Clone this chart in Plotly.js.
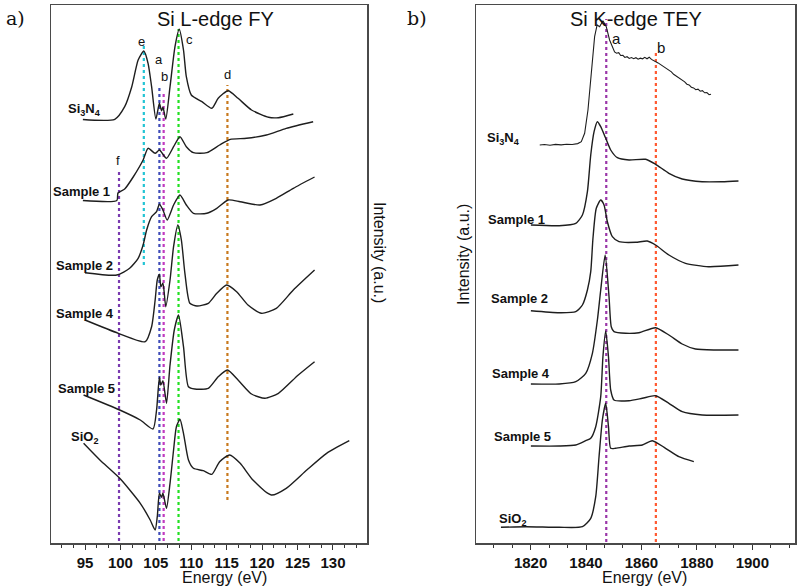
<!DOCTYPE html>
<html>
<head>
<meta charset="utf-8">
<script src="https://cdn.plot.ly/plotly-3.0.1.min.js"></script>
<style>html,body{margin:0;padding:0;background:#fff;}#chart{width:800px;height:588px;}</style>
</head>
<body>
<div id="chart"></div>
<script>
// ---------- Panel a: Si L-edge FY (energy in eV, intensity in a.u. incl. stacking offset) ----------
const L_Si3N4_E = [94.7, 99.2, 100.6, 101.6, 102.5, 103.3, 103.9, 104.4, 105.0, 105.5, 105.8, 106.0, 106.4, 107.0, 107.7, 108.3, 108.9, 109.3, 110.0, 111.5, 112.9, 113.8, 115.2, 116.6, 118.5, 120.9, 122.3, 124.4];
const L_Si3N4_I = [423.5, 423.7, 436.3, 456.3, 483, 492, 479.7, 456.3, 424, 439.7, 432.3, 435.7, 424, 456.3, 496.3, 513.7, 493, 466.3, 448, 441.3, 434.7, 444.7, 452.3, 444.7, 433, 425.7, 425.3, 429];

const L_S1_E = [94.7, 99.5, 99.65, 100.6, 101.8, 103.2, 103.9, 104.9, 105.5, 106.5, 107.5, 108.4, 109.3, 110.3, 112.2, 114.0, 115.5, 117.8, 120.6, 123.4, 127.2];
const L_S1_I = [342.5, 342.5, 350, 354, 366, 383, 394.7, 389.7, 393, 384.7, 396.3, 406.3, 396.3, 390.3, 390.3, 398, 403.7, 404.7, 408, 414.7, 421.3];

const L_S2_E = [95.0, 99.5, 101.3, 102.5, 103.2, 103.7, 104.4, 105.1, 105.5, 106.0, 106.6, 107.5, 108.4, 109.3, 110.3, 112.2, 113.6, 115.2, 116.9, 119.7, 122.0, 124.4, 127.4];
const L_S2_I = [270.3, 268, 274.7, 284.7, 298, 313, 326.3, 331.3, 338.7, 333, 323, 338, 348, 338, 329.7, 329.7, 334.7, 343, 341.3, 338, 344.7, 354.7, 366];

const L_S4_E = [95.0, 99.7, 103.5, 104.4, 104.9, 105.2, 105.5, 105.7, 106.0, 106.4, 107.0, 107.5, 108.1, 108.6, 109.1, 109.8, 110.8, 112.4, 113.6, 115.0, 116.4, 118.0, 119.9, 122.0, 124.4, 127.4];
const L_S4_I = [223, 209.7, 201.3, 216.3, 243, 263, 268.7, 256.3, 259.7, 236.3, 263, 296.3, 318, 303, 269.7, 239.7, 237, 239.7, 249.7, 258, 251.3, 238, 229.7, 234.7, 253, 273];

const L_S5_E = [94.8, 99.9, 102.8, 104.6, 105.1, 105.5, 105.7, 106.0, 106.5, 107.0, 107.6, 108.2, 108.9, 109.6, 110.5, 112.4, 113.8, 115.1, 116.6, 118.5, 120.4, 122.3, 125.1, 127.4];
const L_S5_I = [148, 133, 123, 114, 133, 165.7, 158, 162.3, 139.7, 178, 213, 228, 196.3, 156.3, 154, 154.7, 166.3, 173, 163, 149, 144.7, 149.7, 168, 181.3];

const L_SiO2_E = [94.8, 97.1, 99.9, 102.8, 104.2, 104.9, 105.2, 105.5, 105.8, 106.0, 106.5, 107.0, 107.5, 107.9, 108.4, 108.9, 109.6, 110.3, 111.7, 112.9, 114.0, 115.4, 116.9, 118.7, 121.3, 123.4, 126.3, 129.1, 132.3];
const L_SiO2_I = [99.7, 83, 64.7, 39.7, 23, 13, 26.3, 49.7, 45.7, 49.7, 34.7, 59.7, 93, 116.3, 123.7, 109.7, 83, 74.7, 72.3, 68.7, 81.3, 88, 79.7, 63, 48, 54.7, 73, 89.7, 102.3];

// marker lines (feature energies) for panel a
const L_marks = ['f', 'e', 'a', 'b', 'c', 'd'];
const L_markE = [99.8, 103.3, 105.5, 106.1, 108.2, 115.1];
const L_markTop = [373, 497, 457, 452, 514, 458];
const L_markBot = [2, 278, 2, 2, 2, 43];
const L_markColors = ['#7a3bb0', '#22c4d4', '#3f4cb8', '#c03ac0', '#22e022', '#c8791e'];
const L_markLabelE = [99.6, 103.0, 105.4, 106.2, 109.8, 115.1];
const L_markLabelI = [382, 501, 483, 466, 503, 468];

const L_names = ['Si<sub>3</sub>N<sub>4</sub>', 'Sample 1', 'Sample 2', 'Sample 4', 'Sample 5', 'SiO<sub>2</sub>'];
const L_nameE = [97.5, 98.8, 99.2, 99.4, 99.5, 97.1];
const L_nameI = [433, 351, 278, 230, 155, 106];

// ---------- Panel b: Si K-edge TEY ----------
const K_Si3N4_E = [1823.3, 1825.0, 1827.0, 1829.0, 1831.0, 1833.0, 1835.0, 1837.0, 1838.3, 1839.5, 1840.7, 1841.9, 1843.1, 1844.0, 1844.9, 1846.1, 1847.3, 1848.5, 1849.5, 1850.3, 1851.0, 1851.8, 1852.5, 1853.3, 1854.0, 1854.8, 1855.6, 1856.4, 1857.2, 1858.0, 1858.8, 1859.6, 1860.4, 1861.2, 1862.0, 1862.8, 1863.6, 1864.4, 1865.2, 1866.0, 1866.8, 1867.6, 1868.4, 1869.2, 1870.0, 1870.8, 1871.6, 1872.4, 1873.2, 1874.0, 1874.8, 1875.6, 1876.4, 1877.2, 1878.0, 1878.8, 1879.6, 1880.4, 1881.2, 1882.0, 1882.8, 1883.6, 1884.4, 1885.1];
const K_Si3N4_I = [398, 398.5, 397.8, 398.6, 398.1, 398.8, 398.5, 399.4, 401.3, 409.7, 433, 469.7, 506.3, 518, 516.3, 522.3, 516.3, 503, 496, 491, 489.8, 490.3, 487.5, 487.6, 485.6, 486.3, 484.6, 485.4, 484.3, 485.3, 483.8, 484.8, 484.2, 485.6, 484.2, 485.8, 483.6, 482.6, 481.2, 480.1, 478.6, 477.2, 475.6, 474.4, 472.2, 471.1, 468.7, 467.2, 465.6, 464.1, 461.9, 461.1, 458.8, 458.1, 455.8, 455.1, 453.3, 453.8, 451.8, 452.3, 450.2, 450.4, 448.3, 448.8];

const K_S1_E = [1820.1, 1830.3, 1836.3, 1838.7, 1840.5, 1841.7, 1842.9, 1844.1, 1845.3, 1847.1, 1848.9, 1851.3, 1855.5, 1861.5, 1865.1, 1869.9, 1874.7, 1881.9, 1889.1, 1895.0];
const K_S1_I = [318, 317.3, 319.7, 328, 351.3, 388, 411.3, 421.3, 416.3, 404.7, 393, 385.3, 383, 383.7, 378.7, 369.7, 364, 361.3, 361.3, 362];

const K_S2_E = [1820.1, 1830.3, 1836.3, 1838.7, 1840.5, 1841.7, 1842.5, 1843.7, 1845.3, 1846.5, 1847.7, 1849.5, 1851.9, 1857.9, 1862.1, 1865.1, 1869.9, 1875.9, 1884.2, 1895.0];
const K_S2_I = [232.3, 230.3, 231.3, 238, 253, 271.3, 304.7, 334.7, 343, 338, 321.3, 306.3, 301.3, 300.7, 302, 298, 288, 279.7, 276.3, 278];

const K_S4_E = [1820.1, 1830.3, 1836.3, 1839.9, 1842.3, 1844.1, 1845.3, 1846.9, 1848.3, 1849.1, 1850.1, 1854.3, 1859.1, 1865.1, 1869.9, 1874.7, 1879.5, 1886.7, 1895.0];
const K_S4_I = [159, 159, 161.3, 169.7, 189.7, 223, 253, 288, 246.3, 216.3, 211.3, 209.7, 210.3, 215.3, 208, 199, 194, 193, 193];

const K_S5_E = [1820.1, 1830.3, 1836.3, 1839.9, 1841.7, 1843.5, 1845.3, 1846.1, 1847.1, 1848.1, 1848.9, 1850.1, 1855.5, 1860.3, 1865.1, 1869.9, 1874.7, 1881.9, 1895.0];
const K_S5_I = [97, 97, 98, 102.3, 104.7, 116.3, 146.3, 186.3, 212, 186.3, 153, 143, 142.3, 144.7, 147.3, 139.7, 131.3, 128, 128];

const K_SiO2_E = [1809.3, 1818.3, 1830.3, 1838.7, 1841.7, 1843.5, 1844.7, 1845.9, 1847.1, 1848.1, 1848.9, 1850.7, 1855.5, 1860.3, 1863.9, 1868.7, 1873.5, 1878.9];
const K_SiO2_I = [15.7, 16.3, 15.7, 16.3, 24.7, 46.3, 86.3, 123, 139.7, 116.3, 94.7, 94.7, 97, 98, 102.3, 94.7, 86.3, 81.3];

const K_marks = ['a', 'b'];
const K_markE = [1847.3, 1865.2];
const K_markTop = [524, 490];
const K_markBot = [1, 1];
const K_markColors = ['#9a36a8', '#ff5a32'];
const K_markLabelE = [1851.0, 1867.1];
const K_markLabelI = [504, 495];

const K_names = ['Si<sub>3</sub>N<sub>4</sub>', 'Sample 1', 'Sample 2', 'Sample 4', 'Sample 5', 'SiO<sub>2</sub>'];
const K_nameE = [1816.9, 1825.9, 1826.9, 1827.7, 1828.0, 1819.0];
const K_nameI = [404, 323, 245, 170, 107, 24];

// Axis ranges
const L_range = [90.2, 134.8];
const K_range = [1800.3, 1915.4];
const I_range = [0, 538];

// ---------- build ----------
const traces = [];
function markLines(E, top, bot, colors, xa, ya) {
  E.forEach((e, i) => {
    traces.push({x: [e, e], y: [bot[i], top[i]], xaxis: xa, yaxis: ya, mode: 'lines',
      line: {color: colors[i], width: 2.2, dash: 'dot'}, hoverinfo: 'skip', showlegend: false});
  });
}
markLines(L_markE, L_markTop, L_markBot, L_markColors, 'x', 'y');
markLines(K_markE, K_markTop, K_markBot, K_markColors, 'x2', 'y2');

const Lseries = [[L_Si3N4_E, L_Si3N4_I], [L_S1_E, L_S1_I], [L_S2_E, L_S2_I], [L_S4_E, L_S4_I], [L_S5_E, L_S5_I], [L_SiO2_E, L_SiO2_I]];
const Kseries = [[K_Si3N4_E, K_Si3N4_I], [K_S1_E, K_S1_I], [K_S2_E, K_S2_I], [K_S4_E, K_S4_I], [K_S5_E, K_S5_I], [K_SiO2_E, K_SiO2_I]];
Lseries.forEach(s => traces.push({x: s[0], y: s[1], xaxis: 'x', yaxis: 'y', mode: 'lines',
  line: {color: '#1e1e1e', width: 1.4, shape: 'spline', smoothing: 0.6}, showlegend: false, hoverinfo: 'skip'}));
Kseries.forEach((s, i) => traces.push({x: s[0], y: s[1], xaxis: 'x2', yaxis: 'y2', mode: 'lines',
  line: {color: '#1e1e1e', width: i === 0 ? 1.1 : 1.4, shape: i === 0 ? 'linear' : 'spline', smoothing: 0.6}, showlegend: false, hoverinfo: 'skip'}));

const ann = [];
const labelFont = {family: 'Liberation Sans, Arial, sans-serif', size: 13, color: '#111', weight: 'bold'};
const letterFont = {family: 'Liberation Sans, Arial, sans-serif', size: 13, color: '#111'};
L_names.forEach((n, i) => ann.push({xref: 'x', yref: 'y', x: L_nameE[i], y: L_nameI[i], text: n, showarrow: false, xanchor: 'right', yanchor: 'middle', font: labelFont}));
K_names.forEach((n, i) => ann.push({xref: 'x2', yref: 'y2', x: K_nameE[i], y: K_nameI[i], text: n, showarrow: false, xanchor: 'right', yanchor: 'middle', font: labelFont}));
L_marks.forEach((m, i) => ann.push({xref: 'x', yref: 'y', x: L_markLabelE[i], y: L_markLabelI[i], text: m, showarrow: false, xanchor: 'center', yanchor: 'middle', font: letterFont}));
K_marks.forEach((m, i) => ann.push({xref: 'x2', yref: 'y2', x: K_markLabelE[i], y: K_markLabelI[i], text: m, showarrow: false, xanchor: 'center', yanchor: 'middle', font: {family: 'Liberation Sans, Arial, sans-serif', size: 15, color: '#111'}}));

const titleFont = {family: 'Liberation Sans, Arial, sans-serif', size: 20, color: '#111'};
const axFont = {family: 'Liberation Sans, Arial, sans-serif', size: 16, color: '#111'};
const serifFont = {family: 'DejaVu Serif, Liberation Serif, serif', size: 19, color: '#111'};
function pAnn(px, py, text, font, angle) {
  ann.push({xref: 'paper', yref: 'paper', x: px/800, y: (588-py)/588, text: text, showarrow: false,
    xanchor: 'center', yanchor: 'middle', textangle: angle || 0, font: font});
}
pAnn(215, 19, 'Si L-edge FY', titleFont);
pAnn(635.5, 19, 'Si K-edge TEY', titleFont);
pAnn(15, 18, 'a)', serifFont);
pAnn(417, 18, 'b)', serifFont);
pAnn(224, 577, 'Energy (eV)', axFont);
pAnn(644.5, 577, 'Energy (eV)', axFont);
pAnn(380, 252, 'Intensity (a.u.)', axFont, 90);
pAnn(463, 255, 'Intensity (a.u.)', axFont, -90);

const tickFont = {family: 'Liberation Sans, Arial, sans-serif', size: 15, color: '#111', weight: 'bold'};
function xax(domain, range, dtick) {
  return {domain: domain, range: range, dtick: dtick, tick0: 0, ticks: 'outside', ticklen: 5, tickwidth: 1, tickcolor: '#333',
    minor: {dtick: dtick/3, ticks: 'outside', ticklen: 3, tickcolor: '#333', showgrid: false},
    showline: true, linecolor: '#4a4a4a', linewidth: 1.5, mirror: true, showgrid: false, zeroline: false,
    tickfont: tickFont, fixedrange: true};
}
function yax(domain) {
  return {domain: domain, range: I_range, showticklabels: false, ticks: '', showline: true, linecolor: '#4a4a4a', linewidth: 1.5,
    mirror: true, showgrid: false, zeroline: false, fixedrange: true};
}
const ydom = [(588-543)/588, (588-5)/588];
const layout = {
  width: 800, height: 588, margin: {l: 0, r: 0, t: 0, b: 0},
  paper_bgcolor: '#fff', plot_bgcolor: '#fff', showlegend: false,
  xaxis: Object.assign(xax([51/800, 367/800], L_range, 5), {anchor: 'y'}),
  yaxis: Object.assign(yax(ydom), {anchor: 'x'}),
  xaxis2: Object.assign(xax([476/800, 795/800], K_range, 20), {anchor: 'y2'}),
  yaxis2: Object.assign(yax(ydom), {anchor: 'x2'}),
  annotations: ann
};
Plotly.newPlot('chart', traces, layout, {staticPlot: true, displayModeBar: false});
</script>
</body>
</html>
